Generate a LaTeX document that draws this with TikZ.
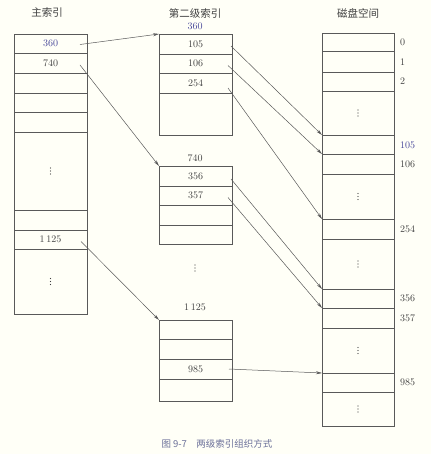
\documentclass[tikz,border=0pt]{standalone}
\usepackage{fontspec}
\newfontfamily\cjk{Noto Sans CJK SC}
\usetikzlibrary{arrows.meta}
\definecolor{bgc}{rgb}{1,1,0.97}
\definecolor{linec}{rgb}{0.35,0.35,0.35}
\definecolor{txtc}{rgb}{0.25,0.25,0.25}
\definecolor{bluec}{rgb}{0.28,0.28,0.6}
\definecolor{capc}{rgb}{0.42,0.44,0.6}
\tikzset{
  cell/.style={draw=linec, line width=0.6pt, minimum width=73pt, inner sep=0pt, outer sep=0pt, anchor=north west, text=txtc, font=\fontsize{10}{12}\selectfont},
  dcell/.style={cell, minimum width=72pt},
  lbl/.style={text=txtc, font=\fontsize{10}{12}\selectfont, inner sep=0pt},
  head/.style={text=txtc, font=\cjk\fontsize{10.5}{12}\selectfont, inner sep=0pt},
  arr/.style={draw=linec, line width=0.5pt, -{Stealth[length=6pt,width=3pt]}},
  dotc/.style={fill=txtc}
}
\newcommand\myvdots[1]{\foreach \k in {-3,0,3} {\fill[dotc] ([yshift=\k pt]#1) circle (0.55pt);}}
\begin{document}
\begin{tikzpicture}[x=1pt,y=-1pt]
\fill[bgc] (0,0) rectangle (431,454);
\useasboundingbox (0,0) rectangle (431,454);
% headers
\node[head] (h1) at (47,13) {主索引};
\node[head] (h2) at (195,13) {第二级索引};
\node[head] (h3) at (358,13) {磁盘空间};
% main index
\node[cell, minimum height=19pt, text=bluec] (m1) at (14,34) {360};
\node[cell, minimum height=20pt] (m2) at (14,53) {740};
\node[cell, minimum height=20pt] (m3) at (14,73) {};
\node[cell, minimum height=19pt] (m4) at (14,93) {};
\node[cell, minimum height=20pt] (m5) at (14,112) {};
\node[cell, minimum height=78pt] (m6) at (14,132) {};
\node[cell, minimum height=20pt] (m7) at (14,210) {};
\node[cell, minimum height=19pt] (m8) at (14,230) {1\,125};
\node[cell, minimum height=65pt] (m9) at (14,249) {};
\myvdots{m6.center}
\myvdots{m9.center}
% second-level index, block 360
\node[lbl, text=bluec] (t1) at (195,26) {360};
\node[cell, minimum height=20pt] (a1) at (159,34) {105};
\node[cell, minimum height=19pt] (a2) at (159,54) {106};
\node[cell, minimum height=20pt] (a3) at (159,73) {254};
\node[cell, minimum height=42pt] (a4) at (159,93) {};
% block 740
\node[lbl] (t2) at (195,158) {740};
\node[cell, minimum height=20pt] (b1) at (159,166) {356};
\node[cell, minimum height=19pt] (b2) at (159,186) {357};
\node[cell, minimum height=20pt] (b3) at (159,205) {};
\node[cell, minimum height=19pt] (b4) at (159,225) {};
\coordinate (vd) at (195,268);
\myvdots{vd}
% block 1125
\node[lbl] (t3) at (195,307) {1\,125};
\node[cell, minimum height=19pt] (c1) at (159,320) {};
\node[cell, minimum height=20pt] (c2) at (159,339) {};
\node[cell, minimum height=20pt] (c3) at (159,359) {985};
\node[cell, minimum height=22pt] (c4) at (159,379) {};
% disk
\node[dcell, minimum height=18pt] (d1) at (322,33) {};
\node[dcell, minimum height=21pt] (d2) at (322,51) {};
\node[dcell, minimum height=19pt] (d3) at (322,72) {};
\node[dcell, minimum height=44pt] (d4) at (322,91) {};
\node[dcell, minimum height=19pt] (d5) at (322,135) {};
\node[dcell, minimum height=20pt] (d6) at (322,154) {};
\node[dcell, minimum height=45pt] (d7) at (322,174) {};
\node[dcell, minimum height=20pt] (d8) at (322,219) {};
\node[dcell, minimum height=50pt] (d9) at (322,239) {};
\node[dcell, minimum height=19pt] (d10) at (322,289) {};
\node[dcell, minimum height=20pt] (d11) at (322,308) {};
\node[dcell, minimum height=45pt] (d12) at (322,328) {};
\node[dcell, minimum height=19pt] (d13) at (322,373) {};
\node[dcell, minimum height=34pt] (d14) at (322,392) {};
\myvdots{d4.center}
\myvdots{d7.center}
\myvdots{d9.center}
\myvdots{d12.center}
\myvdots{d14.center}
% disk labels
\node[lbl, anchor=west] (l0) at (400,42) {0};
\node[lbl, anchor=west] (l1) at (400,62) {1};
\node[lbl, anchor=west] (l2) at (400,81) {2};
\node[lbl, anchor=west, text=bluec] (l105) at (400,145) {105};
\node[lbl, anchor=west] (l106) at (400,164) {106};
\node[lbl, anchor=west] (l254) at (400,229) {254};
\node[lbl, anchor=west] (l356) at (400,298) {356};
\node[lbl, anchor=west] (l357) at (400,318) {357};
\node[lbl, anchor=west] (l985) at (400,382) {985};
% arrows
\draw[arr] ([xshift=-7pt,yshift=-1pt]m1.east) -- (a1.north west);
\draw[arr] ([xshift=-7pt,yshift=-2pt]m2.east) -- (b1.north west);
\draw[arr] ([xshift=-6pt,yshift=-2pt]m8.east) -- (c1.north west);
\draw[arr] ([xshift=-1pt,yshift=-2pt]a1.east) -- (d5.north west);
\draw[arr] ([xshift=-4pt,yshift=-2pt]a2.east) -- (d6.north west);
\draw[arr] ([xshift=-4pt,yshift=-5pt]a3.east) -- (d8.north west);
\draw[arr] ([xshift=-1pt,yshift=-3pt]b1.east) -- (d10.north west);
\draw[arr] ([xshift=-4pt,yshift=-2pt]b2.east) -- (d11.north west);
\draw[arr] ([xshift=-3pt]c3.east) -- (d13.north west);
% caption
\node[text=capc, font=\cjk\fontsize{9.5}{11}\selectfont, inner sep=0pt] (cap) at (217,444) {图 9-7\quad 两级索引组织方式};
\end{tikzpicture}
\end{document}
